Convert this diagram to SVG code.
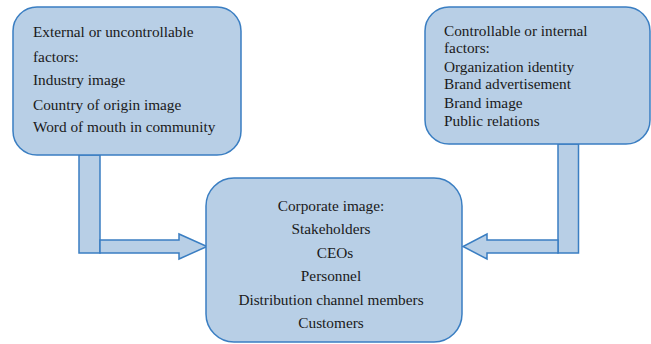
<svg xmlns="http://www.w3.org/2000/svg" width="651" height="344" viewBox="0 0 651 344">
<style>
.box{fill:#b8cfe6;stroke:#3a7ec2;stroke-width:1.5}
.conn{fill:#b8cfe6;stroke:#3a7ec2;stroke-width:1.5;stroke-linejoin:miter}
.t{font-family:'Liberation Serif',serif;font-size:15.3px;fill:#1a1a1a}
.c{text-anchor:middle}
</style>
<rect width="651" height="344" fill="#ffffff"/>
<g id="connectors">
<rect class="conn" x="79" y="155" width="21" height="98"/>
<polygon class="conn" points="100,240 179,240 179,234 207,246.5 179,259 179,253 100,253"/>
<rect class="conn" x="558" y="144" width="20.5" height="109"/>
<polygon class="conn" points="558,240 487,240 487,234 463,246.5 487,259 487,253 558,253"/>
</g>
<g id="external">
<rect class="box" x="13" y="7" width="228" height="148" rx="24" ry="24"/>
<text class="t" x="33" y="37">External or uncontrollable</text>
<text class="t" x="33" y="62">factors:</text>
<text class="t" x="33" y="85">Industry image</text>
<text class="t" x="33" y="110">Country of origin image</text>
<text class="t" x="33" y="132">Word of mouth in community</text>
</g>
<g id="internal">
<rect class="box" x="425" y="7" width="225" height="137" rx="24" ry="24"/>
<text class="t" x="444" y="36">Controllable or internal</text>
<text class="t" x="444" y="53">factors:</text>
<text class="t" x="444" y="72">Organization identity</text>
<text class="t" x="444" y="89">Brand advertisement</text>
<text class="t" x="444" y="108">Brand image</text>
<text class="t" x="444" y="126">Public relations</text>
</g>
<g id="corporate">
<rect class="box" x="206" y="178" width="256" height="164" rx="28" ry="28"/>
<text class="t c" x="331" y="211">Corporate image:</text>
<text class="t c" x="331" y="234">Stakeholders</text>
<text class="t c" x="335" y="258">CEOs</text>
<text class="t c" x="331" y="281">Personnel</text>
<text class="t c" x="331" y="305">Distribution channel members</text>
<text class="t c" x="331" y="328">Customers</text>
</g>
</svg>
